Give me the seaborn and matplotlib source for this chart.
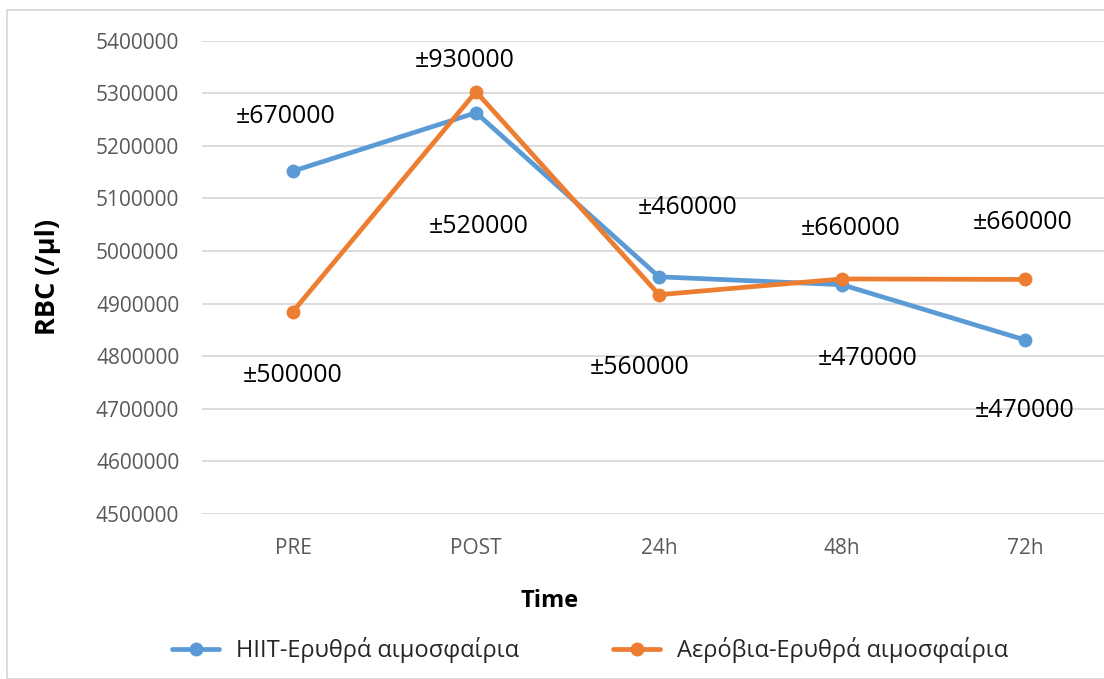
import matplotlib
matplotlib.use("Agg")
import matplotlib.pyplot as plt
import seaborn as sns
import pandas as pd
from matplotlib.lines import Line2D
from matplotlib.patches import Rectangle

times = ["PRE", "POST", "24h", "48h", "72h"]
hiit_name = "HIIT-Ερυθρά αιμοσφαίρια"
aero_name = "Αερόβια-Ερυθρά αιμοσφαίρια"
hiit_vals = [5152000, 5263000, 4951000, 4936000, 4831000]
aero_vals = [4885000, 5303000, 4917000, 4947000, 4946000]
y_ticks = [4500000, 4600000, 4700000, 4800000, 4900000, 5000000, 5100000, 5200000, 5300000, 5400000]

# SD labels: (text, category index)
sd_labels = ["±670000", "±500000", "±930000", "±520000", "±460000",
             "±560000", "±660000", "±470000", "±660000", "±470000"]
sd_cat = [0, 0, 1, 1, 2, 2, 3, 3, 4, 4]
# layout: label anchor in data-space (x offset in categories, y value)
label_pos = [(-0.04, 5255000), (0.0, 4763000), (-0.06, 5363000), (0.016, 5046000),
             (0.158, 5082000), (-0.104, 4778000), (0.049, 5042000), (0.142, 4795000),
             (-0.011, 5055000), (0.0, 4696000)]

sns.set_theme(style="white")
plt.rcParams['font.family'] = ['Open Sans', 'DejaVu Sans']

blue = "#5B9BD5"
orange = "#ED7D31"

df = pd.DataFrame({
    "Time": times * 2,
    "RBC": hiit_vals + aero_vals,
    "Group": [hiit_name] * len(times) + [aero_name] * len(times),
})

fig = plt.figure(figsize=(11.04, 6.79), dpi=100)
W, H = 1104, 679
left_px, right_px = 201.5, 1116.5
top_px, bot_px = 40.7, 514.0
ax = fig.add_axes([left_px / W, 1 - bot_px / H, (right_px - left_px) / W, (bot_px - top_px) / H])

sns.lineplot(data=df, x="Time", y="RBC", hue="Group", palette=[blue, orange],
             marker="o", markersize=10, markeredgewidth=0, linewidth=3.4,
             ax=ax, legend=False, sort=False)

ax.set_xlim(-0.5, 4.5)
ax.set_ylim(4500000, 5400000)
ax.set_yticks(y_ticks)
ax.set_yticklabels([str(v) for v in y_ticks])
ax.yaxis.grid(True, color="#D9D9D9", linewidth=1.3)
ax.xaxis.grid(False)
for s in ax.spines.values():
    s.set_visible(False)
ax.tick_params(axis="both", length=0, labelsize=15, labelcolor="#595959")
ax.tick_params(axis="y", pad=16)
ax.tick_params(axis="x", pad=17)
ax.set_xlabel("")
ax.set_ylabel("")

for txt, c, (dx, yv) in zip(sd_labels, sd_cat, label_pos):
    ax.text(c + dx, yv, txt, ha="center", va="center", fontsize=18, color="black")

fig.text(550 / W, 1 - 601 / H, "Time", ha="center", va="center",
         fontsize=17, fontweight="bold", color="black")
fig.text(48 / W, 1 - 277 / H, "RBC (/μl)", ha="center", va="center", rotation=90,
         fontsize=19.5, fontweight="bold", color="black")

h1 = Line2D([], [], color=blue, linewidth=3.4, marker="o", markersize=10, markeredgewidth=0)
h2 = Line2D([], [], color=orange, linewidth=3.4, marker="o", markersize=10, markeredgewidth=0)
fig.legend([h1, h2], [hiit_name, aero_name], loc="center", ncol=2,
           bbox_to_anchor=(590 / W, 1 - 650 / H), frameon=False, fontsize=17,
           handlelength=2.0, columnspacing=4.0, handletextpad=0.7)

fig.patches.append(Rectangle((7 / W, 0), 1.2, 1 - 10 / H, transform=fig.transFigure,
                             fill=False, edgecolor="#D9D9D9", linewidth=1.3))

fig.savefig("out.png", dpi=100)
